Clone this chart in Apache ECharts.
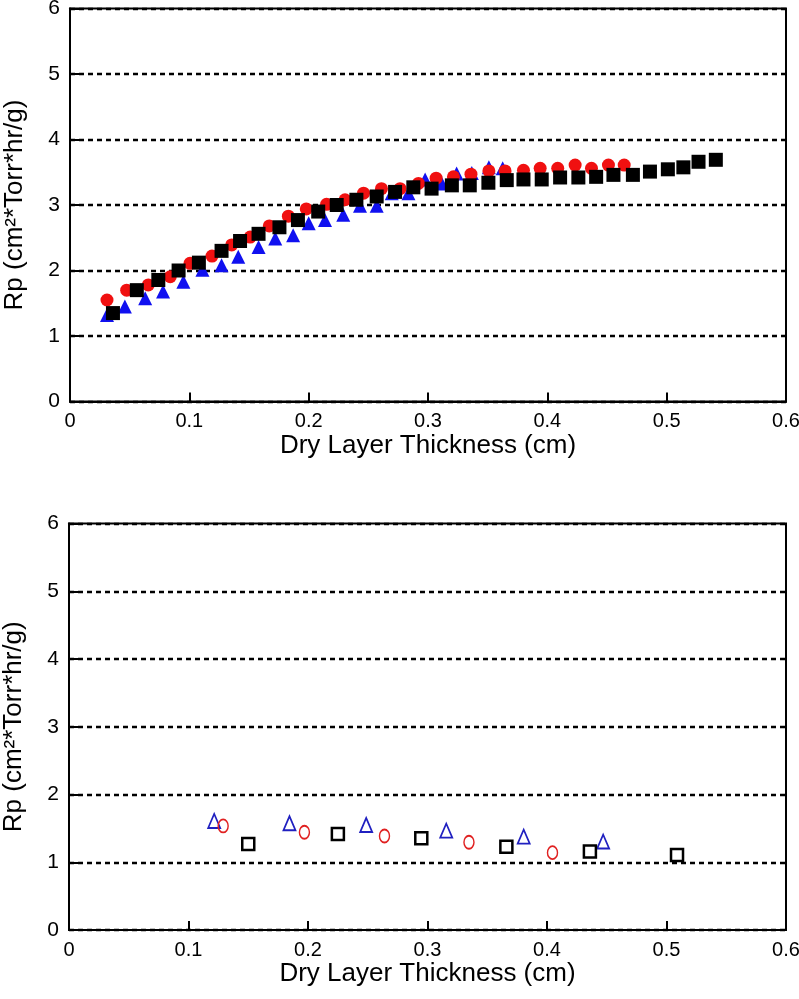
<!DOCTYPE html>
<html>
<head>
<meta charset="utf-8">
<script src="https://cdn.jsdelivr.net/npm/echarts@6/dist/echarts.min.js"></script>
<style>
html,body{margin:0;padding:0;background:#fff;}
#c{width:799px;height:999px;}
</style>
</head>
<body>
<div id="c"></div>
<script>
// ---- data: [Dry Layer Thickness (cm), Rp] ----
const topTriangles = [
  [0.031,1.32],[0.046,1.45],[0.063,1.575],[0.078,1.68],[0.095,1.83],[0.111,2.01],
  [0.127,2.08],[0.141,2.21],[0.158,2.36],[0.172,2.49],[0.187,2.54],[0.200,2.72],
  [0.2137,2.77],[0.229,2.85],[0.243,2.99],[0.257,2.99],[0.2696,3.18],[0.2836,3.18],
  [0.2976,3.39],[0.3115,3.33],[0.324,3.48],[0.3367,3.49],[0.351,3.575],[0.3626,3.56]
];
const topCircles = [
  [0.031,1.55],[0.0475,1.70],[0.0656,1.78],[0.084,1.905],[0.1006,2.11],[0.119,2.22],
  [0.1355,2.39],[0.151,2.51],[0.167,2.68],[0.183,2.83],[0.198,2.94],[0.215,3.01],
  [0.2305,3.08],[0.246,3.18],[0.261,3.25],[0.2766,3.25],[0.292,3.33],[0.3068,3.41],
  [0.3213,3.43],[0.336,3.47],[0.351,3.52],[0.3646,3.52],[0.380,3.53],[0.394,3.56],
  [0.4087,3.56],[0.4233,3.61],[0.437,3.56],[0.4512,3.61],[0.4644,3.61]
];
const topSquares = [
  [0.036,1.35],[0.056,1.70],[0.074,1.855],[0.091,2.00],[0.108,2.12],[0.127,2.30],
  [0.1425,2.45],[0.158,2.56],[0.1755,2.66],[0.191,2.77],[0.208,2.90],[0.2235,3.00],
  [0.240,3.08],[0.257,3.13],[0.2724,3.20],[0.2877,3.27],[0.303,3.25],[0.320,3.30],
  [0.335,3.30],[0.3506,3.34],[0.366,3.38],[0.380,3.39],[0.3953,3.39],[0.4107,3.42],
  [0.426,3.42],[0.4409,3.43],[0.4554,3.46],[0.4717,3.46],[0.486,3.51],[0.501,3.545],
  [0.514,3.575],[0.5267,3.66],[0.5412,3.69]
];
const bottomTriangles = [
  [0.1215,1.61],[0.1845,1.576],[0.2487,1.55],[0.3157,1.467],[0.3805,1.378],[0.447,1.305]
];
const bottomCircles = [
  [0.129,1.536],[0.197,1.443],[0.264,1.388],[0.3347,1.295],[0.4046,1.142]
];
const bottomSquares = [
  [0.150,1.27],[0.225,1.418],[0.2948,1.354],[0.366,1.23],[0.4359,1.157],[0.5088,1.108]
];
const xTickValues = [0, 0.1, 0.2, 0.3, 0.4, 0.5, 0.6];
const xTitle = 'Dry Layer Thickness (cm)';
const yTitle = 'Rp (cm\u00B2*Torr*hr/g)';

const tickFont = "'Liberation Sans Narrow','Liberation Sans',Arial,sans-serif";
const titleFont = "'Liberation Sans',Arial,sans-serif";

function xAxis(gridIndex) {
  return {
    gridIndex, type: 'value', min: 0, max: 0.6, interval: 0.1,
    axisLine: {show: true, onZero: false, lineStyle: {color: '#000', width: 2}},
    axisTick: {show: true, inside: true, length: 9, lineStyle: {color: '#000', width: 2}},
    axisLabel: {color: '#000', fontSize: 20, fontFamily: tickFont, margin: 10,
      formatter: v => { const r = xTickValues.find(t => Math.abs(t - v) < 1e-9); return String(r !== undefined ? r : v); }},
    splitLine: {show: false},
    name: xTitle, nameLocation: 'middle', nameGap: 21,
    nameTextStyle: {color: '#000', fontSize: 26, fontFamily: titleFont, verticalAlign: 'top'}
  };
}
function yAxis(gridIndex) {
  return {
    gridIndex, type: 'value', min: 0, max: 6, interval: 1,
    axisLine: {show: true, onZero: false, lineStyle: {color: '#000', width: 2}},
    axisTick: {show: true, inside: true, length: 9, lineStyle: {color: '#000', width: 2}},
    axisLabel: {color: '#000', fontSize: 21, fontFamily: tickFont, margin: 10},
    splitLine: {show: true, lineStyle: {color: '#000', width: 2.3, type: [5, 4]}},
    name: yTitle, nameLocation: 'middle', nameGap: 42,
    nameTextStyle: {color: '#000', fontSize: 26, fontFamily: titleFont}
  };
}

const chart = echarts.init(document.getElementById('c'), null, {renderer: 'canvas'});
chart.setOption({
  backgroundColor: '#fff',
  animation: false,
  grid: [
    {left: 70, top: 8.5, width: 716, height: 393, show: true, borderColor: '#000', borderWidth: 2,
      containLabel: false, outerBoundsMode: 'none'},
    {left: 69, top: 523.5, width: 717, height: 406.5, show: true, borderColor: '#000', borderWidth: 2,
      containLabel: false, outerBoundsMode: 'none'}
  ],
  xAxis: [xAxis(0), xAxis(1)],
  yAxis: [yAxis(0), yAxis(1)],
  series: [
    {type: 'scatter', xAxisIndex: 0, yAxisIndex: 0, data: topTriangles, symbol: 'triangle', symbolSize: [14, 14],
      itemStyle: {color: '#1010f0', opacity: 1}},
    {type: 'scatter', xAxisIndex: 0, yAxisIndex: 0, data: topCircles, symbol: 'circle', symbolSize: 13,
      itemStyle: {color: '#f01010', opacity: 1}},
    {type: 'scatter', xAxisIndex: 0, yAxisIndex: 0, data: topSquares, symbol: 'rect', symbolSize: 14,
      itemStyle: {color: '#000', opacity: 1}},
    {type: 'scatter', xAxisIndex: 1, yAxisIndex: 1, data: bottomTriangles, symbol: 'triangle', symbolSize: [12, 14],
      itemStyle: {color: 'rgba(0,0,0,0)', borderColor: '#2020c0', borderWidth: 1.8, opacity: 1}},
    {type: 'scatter', xAxisIndex: 1, yAxisIndex: 1, data: bottomCircles, symbol: 'circle', symbolSize: [10, 13],
      itemStyle: {color: 'rgba(0,0,0,0)', borderColor: '#e02020', borderWidth: 1.6, opacity: 1}},
    {type: 'scatter', xAxisIndex: 1, yAxisIndex: 1, data: bottomSquares, symbol: 'rect', symbolSize: 12,
      itemStyle: {color: 'rgba(0,0,0,0)', borderColor: '#000', borderWidth: 2.5, opacity: 1}}
  ]
});
</script>
</body>
</html>
